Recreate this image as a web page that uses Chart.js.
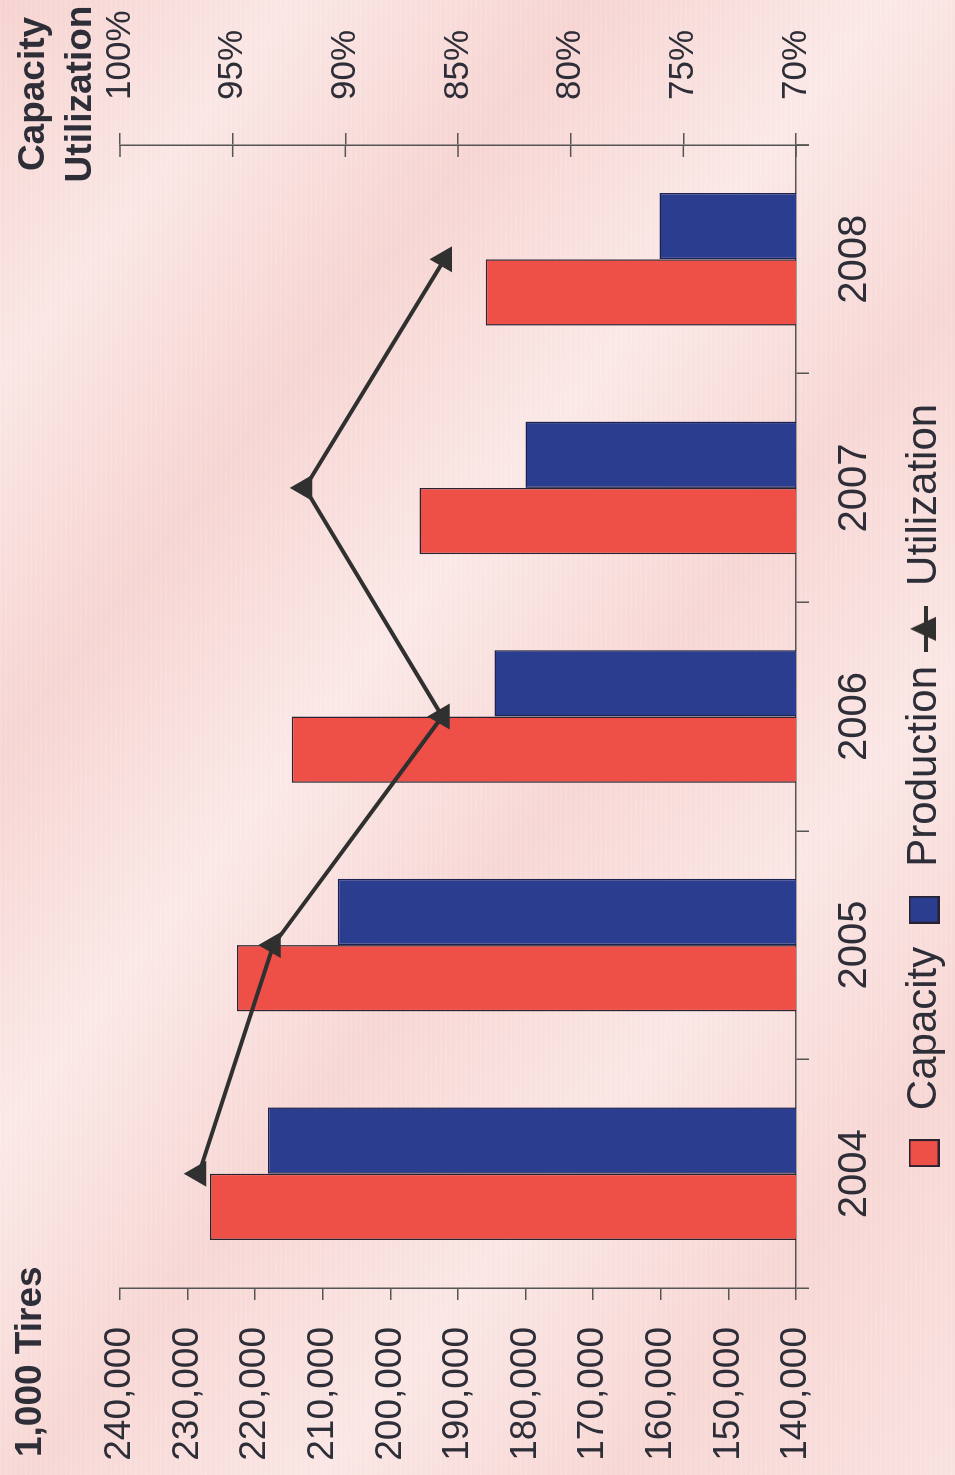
<!DOCTYPE html>
<html>
<head>
<meta charset="utf-8">
<script src="https://cdn.jsdelivr.net/npm/chart.js@4/dist/chart.umd.min.js"></script>
<style>
  html, body { margin: 0; padding: 0; }
  body {
    width: 955px;
    height: 1475px;
    overflow: hidden;
    background:
      repeating-linear-gradient(90deg, rgba(255,255,255,0.10) 0 2px, rgba(255,255,255,0) 2px 5px),
      linear-gradient(128deg, rgba(255,255,255,0) 0%, rgba(255,255,255,0.45) 14%, rgba(255,255,255,0.05) 28%,
        rgba(255,255,255,0.5) 42%, rgba(255,255,255,0.1) 56%, rgba(255,255,255,0.45) 70%, rgba(255,255,255,0.1) 84%, rgba(255,255,255,0.35) 100%),
      #f6d2cf;
  }
  /* the chart is laid out landscape and turned a quarter turn to the left */
  #wrap {
    position: absolute;
    left: 0;
    top: 0;
    width: 1475px;
    height: 955px;
    transform-origin: 0 0;
    transform: translateY(1475px) rotate(-90deg);
  }
</style>
</head>
<body>
<div id="wrap"><canvas id="tireChart" width="1475" height="955"></canvas></div>
<script>
var years = ['2004', '2005', '2006', '2007', '2008'];
var capacity = [226700, 222700, 214600, 195700, 185900];
var production = [218100, 207800, 184600, 180000, 160200];
var utilization = [96.5, 93.2, 85.7, 91.8, 85.6];

var leftTitle = '1,000 Tires';
var rightTitle = ['Capacity', 'Utilization'];

var fontFamily = '"Liberation Sans", Arial, Helvetica, sans-serif';
var textColor = '#2e2e38';
var axisColor = '#555555';
var redFill = '#ee5047';
var blueFill = '#2b3d8e';
var lineColor = '#303030';

// small canvases used as legend markers
function swatch(w, h, draw) {
  var c = document.createElement('canvas');
  c.width = w;
  c.height = h;
  draw(c.getContext('2d'), w, h);
  return c;
}

function boxSwatch(color) {
  return swatch(28, 31, function (ctx, w, h) {
    ctx.fillStyle = color;
    ctx.fillRect(0, 0, w, h);
    ctx.strokeStyle = '#2a2230';
    ctx.lineWidth = 2;
    ctx.strokeRect(1, 1, w - 2, h - 2);
  });
}

var lineSwatch = swatch(46, 32, function (ctx, w, h) {
  ctx.strokeStyle = lineColor;
  ctx.lineWidth = 4;
  ctx.beginPath();
  ctx.moveTo(0, h / 2 + 2);
  ctx.lineTo(w, h / 2 + 2);
  ctx.stroke();
  ctx.fillStyle = lineColor;
  ctx.beginPath();
  ctx.moveTo(w / 2, 2);
  ctx.lineTo(w / 2 + 12, h - 4);
  ctx.lineTo(w / 2 - 12, h - 4);
  ctx.closePath();
  ctx.fill();
});

// keyed by dataset index
var legendMarks = [boxSwatch(redFill), boxSwatch(blueFill), lineSwatch];

// inner half of the right axis ticks, axis stub, and the two axis headings
var axisDecor = {
  id: 'axisDecor',
  afterLayout: function (chart) {
    chart.legend.left -= 52;
    chart.legend.right -= 52;
  },
  afterDraw: function (chart) {
    var ctx = chart.ctx;
    var y1 = chart.scales.y1;
    var area = chart.chartArea;
    ctx.save();
    ctx.strokeStyle = axisColor;
    ctx.lineWidth = 1.5;
    y1.ticks.forEach(function (t) {
      var py = y1.getPixelForValue(t.value);
      ctx.beginPath();
      ctx.moveTo(y1.left - 12, py);
      ctx.lineTo(y1.left, py);
      ctx.stroke();
    });
    ctx.beginPath();
    ctx.moveTo(y1.left, area.bottom);
    ctx.lineTo(y1.left, area.bottom + 13);
    ctx.stroke();

    ctx.fillStyle = textColor;
    ctx.font = 'bold 37px ' + fontFamily;
    ctx.textAlign = 'left';
    ctx.textBaseline = 'alphabetic';
    ctx.fillText(leftTitle, 18, 41);
    ctx.textAlign = 'center';
    ctx.fillText(rightTitle[0], 1381, 44);
    ctx.fillText(rightTitle[1], 1381, 91);
    ctx.restore();
  }
};

new Chart(document.getElementById('tireChart'), {
  type: 'bar',
  data: {
    labels: years,
    datasets: [{
      label: 'Capacity',
      data: capacity,
      backgroundColor: redFill,
      borderColor: '#2a2230',
      borderWidth: 1.5,
      yAxisID: 'y',
      order: 1
    }, {
      label: 'Production',
      data: production,
      backgroundColor: blueFill,
      borderColor: '#1c2250',
      borderWidth: 1.5,
      yAxisID: 'y',
      order: 1
    }, {
      type: 'line',
      label: 'Utilization',
      data: utilization,
      yAxisID: 'y1',
      borderColor: lineColor,
      borderWidth: 4,
      backgroundColor: lineColor,
      pointStyle: 'triangle',
      pointRadius: 15,
      pointBackgroundColor: lineColor,
      pointBorderWidth: 0,
      tension: 0,
      order: 0
    }]
  },
  options: {
    responsive: false,
    animation: false,
    categoryPercentage: 0.58,
    barPercentage: 1.0,
    layout: {
      padding: { top: 120, bottom: 0, left: 0, right: 0 }
    },
    plugins: {
      tooltip: { enabled: false },
      legend: {
        display: true,
        position: 'bottom',
        labels: {
          usePointStyle: true,
          pointStyleWidth: 44,
          boxHeight: 32,
          padding: 15,
          color: textColor,
          font: { family: fontFamily, size: 42 },
          sort: function (a, b) { return a.datasetIndex - b.datasetIndex; },
          generateLabels: function (chart) {
            var items = Chart.defaults.plugins.legend.labels.generateLabels(chart);
            items.forEach(function (item) {
              item.pointStyle = legendMarks[item.datasetIndex];
            });
            return items;
          }
        }
      }
    },
    scales: {
      x: {
        grid: { display: true, drawOnChartArea: false, offset: true, tickLength: 13, color: axisColor, lineWidth: 1.5 },
        border: { display: true, color: axisColor, width: 1.5 },
        ticks: { color: textColor, padding: 22, font: { family: fontFamily, size: 40 } },
        afterFit: function (scale) { scale.height = 92; }
      },
      y: {
        position: 'left',
        min: 140000,
        max: 240000,
        grid: { display: true, drawOnChartArea: false, tickLength: 12, color: axisColor, lineWidth: 1.5 },
        border: { display: true, color: axisColor, width: 1.5 },
        ticks: {
          stepSize: 10000,
          padding: 27,
          color: textColor,
          font: { family: fontFamily, size: 37 },
          callback: function (v) { return Number(v).toLocaleString('en-US'); }
        },
        afterFit: function (scale) { scale.width = 187; }
      },
      y1: {
        position: 'right',
        min: 70,
        max: 100,
        grid: { display: true, drawOnChartArea: false, tickLength: 12, color: axisColor, lineWidth: 1.5 },
        border: { display: true, color: axisColor, width: 1.5 },
        ticks: {
          stepSize: 5,
          padding: 33,
          color: textColor,
          font: { family: fontFamily, size: 35 },
          callback: function (v) { return v + '%'; }
        },
        afterFit: function (scale) { scale.width = 145; }
      }
    }
  },
  plugins: [axisDecor]
});
</script>
</body>
</html>
